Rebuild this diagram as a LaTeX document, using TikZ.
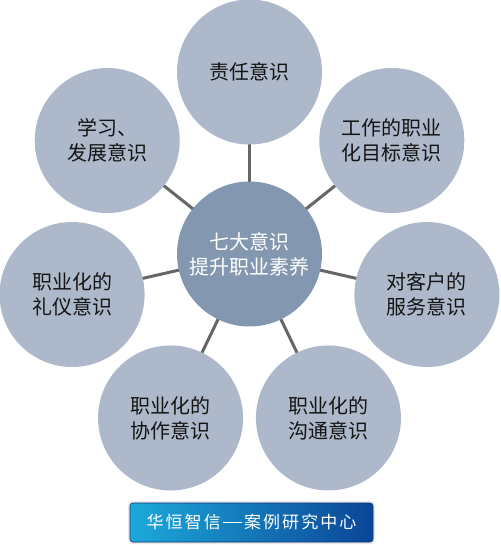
\documentclass[tikz,border=0pt]{standalone}
\usepackage{fontspec}
\newfontfamily\cjk{Noto Sans CJK SC}
\usetikzlibrary{calc,backgrounds}
\definecolor{outerfill}{HTML}{ADB9CA}
\definecolor{centerfill}{HTML}{8497B0}
\definecolor{linkgray}{HTML}{666666}
\definecolor{textdark}{HTML}{141414}
\definecolor{bannerL}{HTML}{1CA9DA}
\definecolor{bannerR}{HTML}{0B4596}
\begin{document}
\begin{tikzpicture}[x=1pt,y=1pt,
  bubble/.style={circle,fill=outerfill,minimum size=145pt,inner sep=0pt,outer sep=0pt,
    align=center,text=textdark,font=\cjk\fontsize{20pt}{25pt}\selectfont},
  hub/.style={bubble,fill=centerfill,text=white},
  link/.style={line width=3pt,draw=linkgray},
  banner/.style={rounded corners=3pt,minimum width=243pt,minimum height=39pt,inner sep=0pt,
    left color=bannerL,right color=bannerR,draw=bannerR!80!black,line width=0.6pt,
    text=white,font=\cjk\fontsize{17pt}{20pt}\selectfont}]
\useasboundingbox (0,0) rectangle (500,-545);
\node[hub] (c) at (249.5,-254) {七大意识\\提升职业素养};
\node[bubble] (o1) at ($(c)+(90:182)$) {责任意识};
\node[bubble] (o2) at ($(c)+(38.57:182)$) {工作的职业\\化目标意识};
\node[bubble] (o3) at ($(c)+(-12.86:182)$) {对客户的\\服务意识};
\node[bubble] (o4) at ($(c)+(-64.29:182)$) {职业化的\\沟通意识};
\node[bubble] (o5) at ($(c)+(-115.71:182)$) {职业化的\\协作意识};
\node[bubble] (o6) at ($(c)+(-167.14:182)$) {职业化的\\礼仪意识};
\node[bubble] (o7) at ($(c)+(141.43:182)$) {学习、\\发展意识};
\begin{scope}[on background layer]
\fill[white] (0,0) rectangle (500,-545);
\foreach \k in {1,...,7} \draw[link] (c.center) -- (o\k.center);
\end{scope}
\fill[gray!18,rounded corners=4pt] (128,-501) rectangle (375,-544);
\node[banner] (b) at (251.5,-522.5) {\hbox to 210pt{华\hfil 恒\hfil 智\hfil 信\hfil \raisebox{5.5pt}{\rule{19pt}{1.3pt}}\hfil 案\hfil 例\hfil 研\hfil 究\hfil 中\hfil 心}};
\end{tikzpicture}
\end{document}
